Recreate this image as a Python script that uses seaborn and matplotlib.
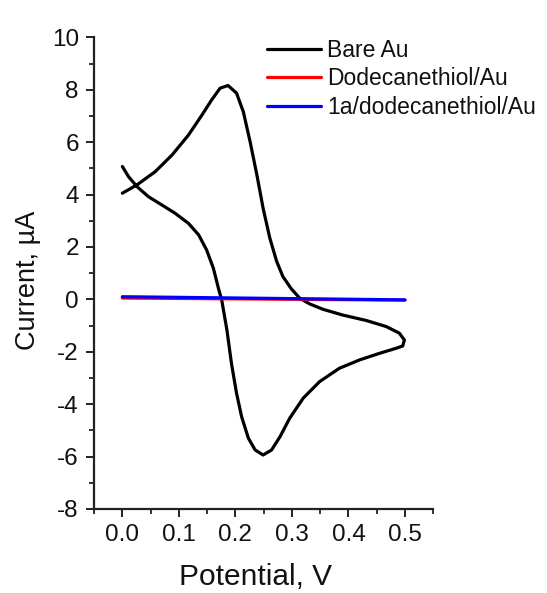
import matplotlib
matplotlib.use("Agg")
import matplotlib.pyplot as plt
from matplotlib.ticker import MultipleLocator, FormatStrFormatter
import numpy as np
import pandas as pd
import seaborn as sns

# Bare Au cyclic voltammogram, traced in sweep order
bare_v = [0.000, 0.011, 0.026, 0.046, 0.070, 0.093, 0.117, 0.135, 0.149, 0.161,
          0.170, 0.176, 0.185, 0.193, 0.202, 0.211, 0.223, 0.235, 0.249, 0.264,
          0.279, 0.296, 0.320, 0.349, 0.384, 0.420, 0.455, 0.484, 0.496, 0.499,
          0.490, 0.467, 0.432, 0.390, 0.355, 0.332, 0.314, 0.299, 0.284, 0.273,
          0.261, 0.249, 0.238, 0.226, 0.214, 0.202, 0.187, 0.173, 0.158, 0.141,
          0.117, 0.088, 0.058, 0.026, 0.000]
bare_i = [5.07, 4.68, 4.30, 3.92, 3.60, 3.29, 2.90, 2.46, 1.89, 1.19,
          0.42, -0.05, -1.17, -2.44, -3.58, -4.48, -5.30, -5.75, -5.94, -5.75,
          -5.24, -4.54, -3.77, -3.14, -2.63, -2.31, -2.06, -1.87, -1.78, -1.55,
          -1.29, -1.04, -0.81, -0.60, -0.38, -0.18, 0.04, 0.40, 0.87, 1.45,
          2.33, 3.48, 4.75, 6.02, 7.16, 7.87, 8.16, 8.06, 7.61, 7.04,
          6.27, 5.51, 4.87, 4.37, 4.05]

# blocked electrodes: almost flat lines
flat_v = [0.0, 0.5]
dodecane_i = [0.05, -0.03]
film_i = [0.10, -0.02]

labels = ["Bare Au", "Dodecanethiol/Au", "1a/dodecanethiol/Au"]
colors = ["#000000", "#ff0000", "#0000ff"]

sns.set_theme(style="ticks")
plt.rcParams["font.family"] = ["Liberation Sans", "DejaVu Sans"]
plt.rcParams["text.color"] = "#111111"
plt.rcParams["axes.labelcolor"] = "#111111"
plt.rcParams["axes.unicode_minus"] = False

df = pd.concat([
    pd.DataFrame({"V": bare_v, "I": bare_i, "sample": labels[0]}),
    pd.DataFrame({"V": flat_v, "I": dodecane_i, "sample": labels[1]}),
    pd.DataFrame({"V": flat_v, "I": film_i, "sample": labels[2]}),
])

fig = plt.figure(figsize=(5.47, 5.93), dpi=100)
ax = fig.add_axes([0.172, 0.1417, 0.620, 0.7954])

sns.lineplot(data=df, x="V", y="I", hue="sample", palette=dict(zip(labels, colors)),
             sort=False, estimator=None, units="sample", linewidth=2.3,
             solid_joinstyle="round", solid_capstyle="round", ax=ax)

ax.set_xlim(-0.05, 0.55)
ax.set_ylim(-8, 10)
ax.xaxis.set_major_locator(MultipleLocator(0.1))
ax.xaxis.set_minor_locator(MultipleLocator(0.05))
ax.yaxis.set_major_locator(MultipleLocator(2))
ax.yaxis.set_minor_locator(MultipleLocator(1))
ax.xaxis.set_major_formatter(FormatStrFormatter("%.1f"))

for side in ["top", "right"]:
    ax.spines[side].set_visible(False)
for side in ["left", "bottom"]:
    ax.spines[side].set_linewidth(1.6)
    ax.spines[side].set_color("#222222")
ax.tick_params(which="major", direction="out", length=6, width=1.4, colors="#222222",
               labelsize=17.5, labelcolor="#111111", pad=5)
ax.tick_params(which="minor", direction="out", length=3.5, width=1.3, colors="#222222")

ax.set_xlabel("Potential, V", fontsize=21.5, labelpad=12)
ax.set_ylabel("Current, \u00b5A", fontsize=19.5, labelpad=8)
ax.xaxis.label.set_x(0.476)
ax.yaxis.label.set_y(0.485)

ax.legend(loc="upper left", bbox_to_anchor=(0.509, 0.997), frameon=False, fontsize=16.5,
          handlelength=2.35, handletextpad=0.3, labelspacing=0.24, borderpad=0,
          borderaxespad=0, title=None)

fig.savefig("out.png", dpi=100, facecolor="white")
